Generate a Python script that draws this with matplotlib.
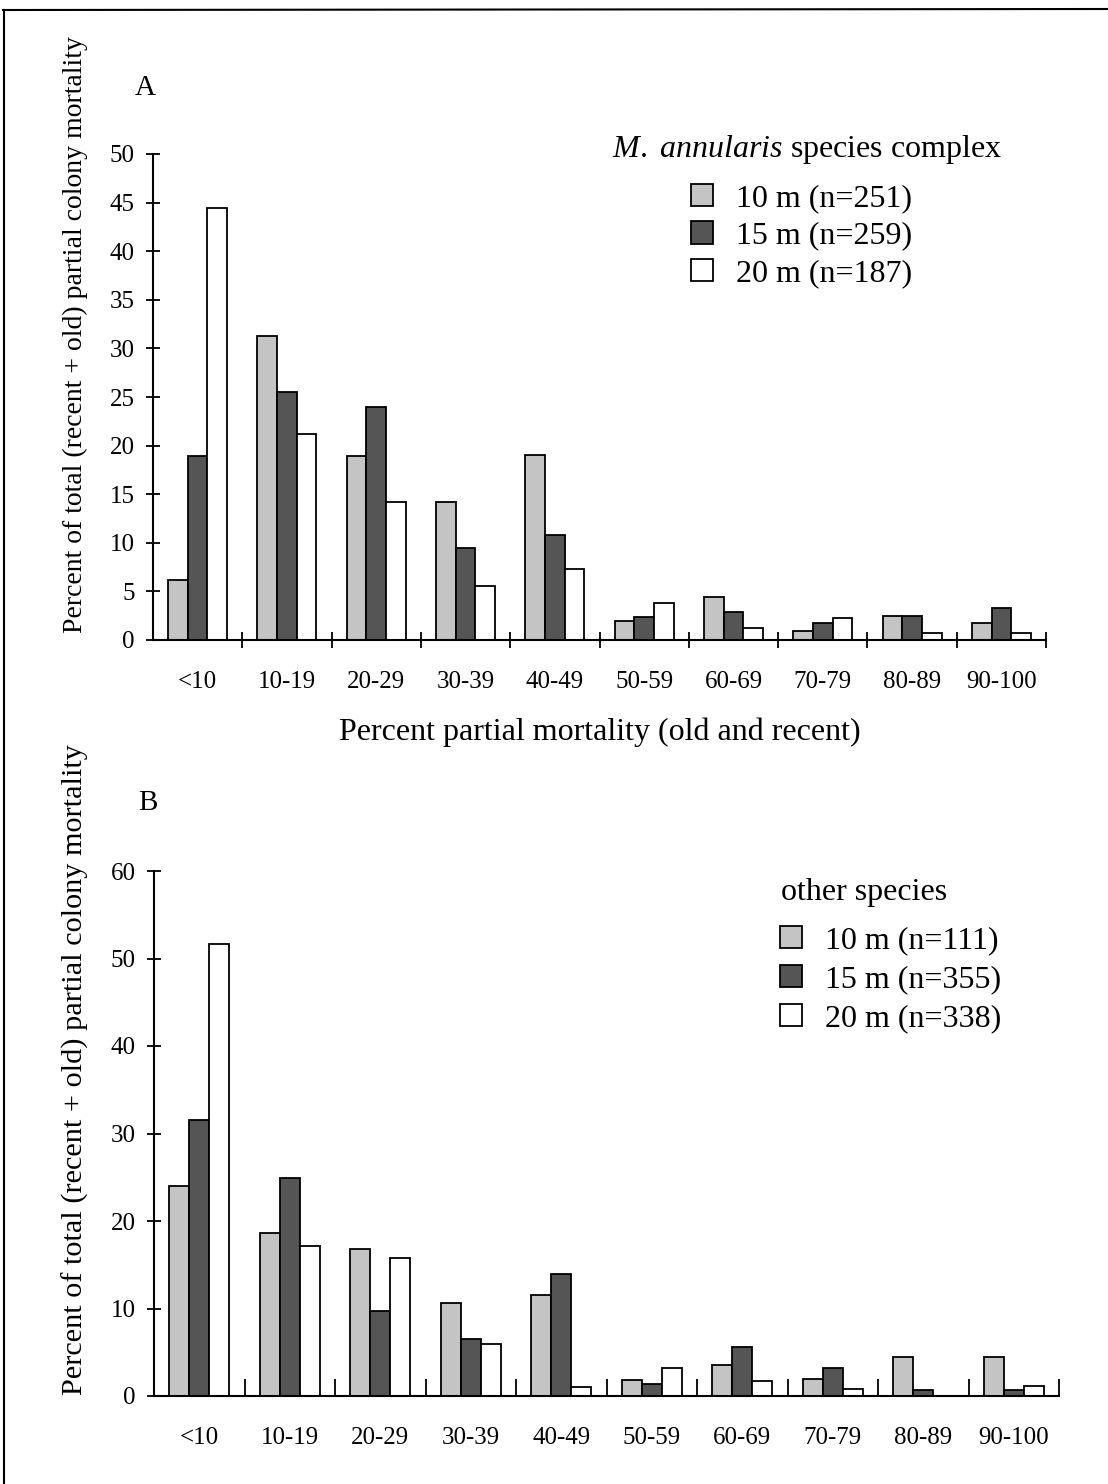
import matplotlib
matplotlib.use("Agg")
import matplotlib.pyplot as plt
from matplotlib.lines import Line2D
import numpy as np

plt.rcParams['font.family'] = ['Liberation Serif', 'DejaVu Serif']
plt.rcParams['mathtext.fontset'] = 'custom'
plt.rcParams['mathtext.it'] = 'Liberation Serif:italic'
plt.rcParams['mathtext.rm'] = 'Liberation Serif'

categories = ["<10", "10-19", "20-29", "30-39", "40-49", "50-59", "60-69", "70-79", "80-89", "90-100"]

# Panel A: M. annularis species complex
a_10m = [6.2, 31.3, 18.9, 14.2, 19.0, 2.0, 4.4, 0.9, 2.5, 1.8]
a_15m = [18.9, 25.5, 24.0, 9.5, 10.8, 2.4, 2.9, 1.7, 2.5, 3.3]
a_20m = [44.4, 21.2, 14.2, 5.6, 7.3, 3.8, 1.2, 2.3, 0.75, 0.75]
a_labels = ["10 m (n=251)", "15 m (n=259)", "20 m (n=187)"]

# Panel B: other species
b_10m = [24.0, 18.6, 16.8, 10.6, 11.5, 1.8, 3.6, 1.9, 4.5, 4.5]
b_15m = [31.5, 24.9, 9.7, 6.5, 13.9, 1.35, 5.6, 3.2, 0.7, 0.7]
b_20m = [51.7, 17.1, 15.8, 5.9, 1.05, 3.2, 1.7, 0.75, 0.0, 1.1]
b_labels = ["10 m (n=111)", "15 m (n=355)", "20 m (n=338)"]

W, H = 1108, 1484
fig = plt.figure(figsize=(W / 100, H / 100), dpi=100)

c10 = "#c4c4c4"
c15 = "#555555"
c20 = "#ffffff"

def px_rect(l, r, top, bottom):
    return [l / W, 1 - bottom / H, (r - l) / W, (bottom - top) / H]

ylabel = "Percent of total (recent + old) partial colony mortality"

def panel(rect, v10, v15, v20, ymax, ystep, xtickdir, xticklen):
    ax = fig.add_axes(rect)
    x = np.arange(len(categories))
    bw = 0.22
    bars = []
    for off, vals, col in zip([-bw, 0, bw], [v10, v15, v20], [c10, c15, c20]):
        b = ax.bar(x + off, vals, width=bw, color=col, edgecolor="black", linewidth=1.3)
        bars.append(b)
    ax.set_xlim(-0.5, len(categories) - 0.5)
    ax.set_ylim(0, ymax)
    for s in ["top", "right"]:
        ax.spines[s].set_visible(False)
    for s in ["left", "bottom"]:
        ax.spines[s].set_linewidth(1.5)
    ax.set_xticks(x)
    ax.set_xticklabels(categories, fontsize=18)
    ax.tick_params(axis="x", which="major", length=0, pad=22)
    ax.set_xticks(np.arange(0.5, len(categories), 1.0), minor=True)
    ax.tick_params(axis="x", which="minor", direction=xtickdir, length=xticklen, width=1.3)
    ax.set_yticks(np.arange(0, ymax + 0.1, ystep))
    ax.tick_params(axis="y", direction="inout", length=10, width=1.3, labelsize=18, pad=8)
    return ax, bars

axA, barsA = panel(px_rect(153, 1046, 154, 640), a_10m, a_15m, a_20m, 50, 5, "inout", 12)
axA.set_ylabel(ylabel, fontsize=20)
axA.yaxis.set_label_coords((88 - 153) / (1046 - 153), (640 - 335) / 486)
axA.set_xlabel("Percent partial mortality (old and recent)", fontsize=23, labelpad=18)

axB, barsB = panel(px_rect(154, 1059, 871, 1396), b_10m, b_15m, b_20m, 60, 10, "in", 12)
axB.set_ylabel(ylabel, fontsize=21.8)
axB.yaxis.set_label_coords((89 - 154) / (1059 - 154), (1396 - 1070) / 525)

fig.text(145 / W, 1 - 88 / H, "A", fontsize=21, ha="center", va="center")
fig.text(148 / W, 1 - 803 / H, "B", fontsize=21, ha="center", va="center")

# legend A
fig.text(807 / W, 1 - 149 / H, r"$\it{M.\ annularis}$ species complex", fontsize=23,
         ha="center", va="center")
fig.legend(barsA, a_labels, loc="upper left", bbox_to_anchor=(691 / W, 1 - 184 / H),
           bbox_transform=fig.transFigure, frameon=False, fontsize=23,
           handlelength=0.7, handleheight=0.7, handletextpad=0.7,
           labelspacing=0.25, borderpad=0, borderaxespad=0)

# legend B
fig.text(781 / W, 1 - 892 / H, "other species", fontsize=23, ha="left", va="center")
fig.legend(barsB, b_labels, loc="upper left", bbox_to_anchor=(780 / W, 1 - 926 / H),
           bbox_transform=fig.transFigure, frameon=False, fontsize=23,
           handlelength=0.7, handleheight=0.7, handletextpad=0.7,
           labelspacing=0.3, borderpad=0, borderaxespad=0)

# scanned page frame (top and left edges)
fig.add_artist(Line2D([3 / W, 1.0], [1 - 10 / H, 1 - 9 / H], transform=fig.transFigure,
                      color="black", linewidth=1.5))
fig.add_artist(Line2D([4 / W, 4 / W], [1 - 10 / H, 0.0], transform=fig.transFigure,
                      color="black", linewidth=1.5))

fig.savefig("out.png", dpi=100)
